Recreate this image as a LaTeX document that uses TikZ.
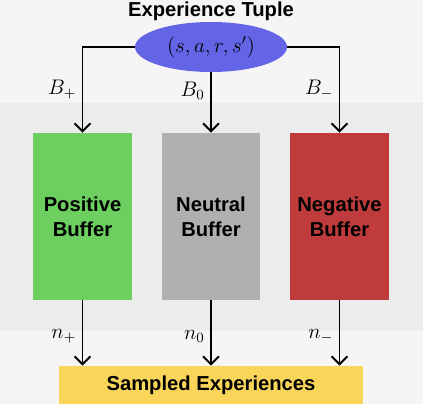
\documentclass[tikz,border=0pt]{standalone}
\usepackage{amsmath,amssymb}
\usepackage{fontspec}
\setsansfont{Liberation Sans}
\usepackage{tikz}
\usetikzlibrary{arrows.meta, positioning, shapes.geometric}

\definecolor{pagebg}{RGB}{245,245,245}
\definecolor{bandbg}{RGB}{236,236,236}
\definecolor{tuplecol}{RGB}{100,100,230}
\definecolor{poscol}{RGB}{108,207,95}
\definecolor{neucol}{RGB}{176,176,176}
\definecolor{negcol}{RGB}{192,60,60}
\definecolor{samplecol}{RGB}{249,214,90}

\begin{document}
\begin{tikzpicture}[
        x=0.02cm, y=-0.02cm,
        >={Straight Barb[length=4.5pt, width=9pt]},
        flow/.style={->, line width=1.1pt, black},
        bufbox/.style={minimum width=1.98cm, minimum height=3.34cm, align=center, inner sep=0pt, font=\sffamily\bfseries\fontsize{11.5}{14}\selectfont},
        lbl/.style={font=\fontsize{12}{14}\selectfont, inner sep=3pt}
    ]
    % backgrounds
    \fill[pagebg] (0,0) rectangle (423,404);
    \fill[bandbg] (0,103) rectangle (423,331);
    \useasboundingbox (0,0) rectangle (423,404);

    \node[font=\sffamily\bfseries\fontsize{11.5}{14}\selectfont] (title) at (211,11) {Experience Tuple};
    \node[ellipse, fill=tuplecol, minimum width=3.04cm, minimum height=1.0cm, inner sep=0pt, font=\fontsize{12}{14}\selectfont] (tuple) at (211,47) {$(s,a,r,s')$};

    \node[bufbox, fill=poscol] (pos) at (82.5,216.5) {Positive\\Buffer};
    \node[bufbox, fill=neucol] (neu) at (211,216.5) {Neutral\\Buffer};
    \node[bufbox, fill=negcol] (neg) at (339.5,216.5) {Negative\\Buffer};

    \node[fill=samplecol, minimum width=6.08cm, minimum height=0.76cm, inner sep=0pt, font=\sffamily\bfseries\fontsize{11.5}{14}\selectfont] (sampled) at (211,385) {Sampled Experiences};

    % tuple to buffers
    \draw[flow] (tuple.west) -| (pos.north) node[pos=0.75, left, lbl] {$B_+$};
    \draw[flow] (tuple.south) -- (neu.north) node[pos=0.3, left, lbl] {$B_0$};
    \draw[flow] (tuple.east) -| (neg.north) node[pos=0.75, left, lbl] {$B_-$};

    % buffers to sample
    \draw[flow] (pos.south) -- (pos.south |- sampled.north) node[pos=0.55, left, lbl] {$n_+$};
    \draw[flow] (neu.south) -- (sampled.north) node[pos=0.55, left, lbl] {$n_0$};
    \draw[flow] (neg.south) -- (neg.south |- sampled.north) node[pos=0.55, left, lbl] {$n_-$};
\end{tikzpicture}
\end{document}
